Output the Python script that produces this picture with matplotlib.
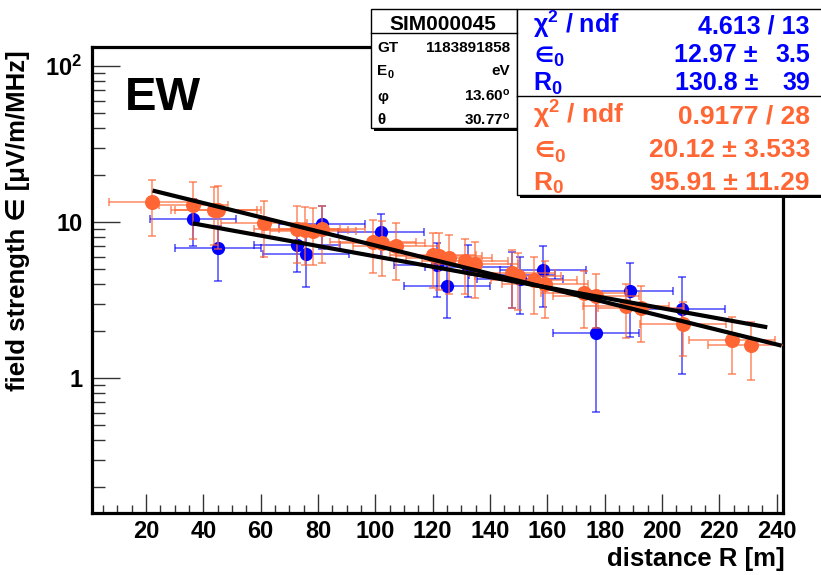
import numpy as np
import matplotlib
matplotlib.use('Agg')
import matplotlib.pyplot as plt
from matplotlib.ticker import FixedLocator, MultipleLocator, LogLocator, NullFormatter
from matplotlib.patches import Rectangle

plt.rcParams['font.family'] = ['Liberation Sans', 'DejaVu Sans']
plt.rcParams['font.weight'] = 'bold'
plt.rcParams['mathtext.fontset'] = 'custom'
plt.rcParams['mathtext.rm'] = 'Liberation Sans:bold'
plt.rcParams['mathtext.bf'] = 'Liberation Sans:bold'
plt.rcParams['mathtext.it'] = 'Liberation Sans:bold'

# ---------------- data ----------------
orange_R = [22.0, 36.5, 43.7, 45.2, 61.2, 72.8, 75.5, 78.1, 81.3, 99.3, 102.2, 107.1,
            120.2, 122.3, 125.8, 131.3, 134.8, 147.5, 149.6, 155.3, 159.2, 172.8,
            177.0, 187.4, 192.6, 207.2, 224.3, 230.9]
orange_eps = [13.4, 12.9, 11.9, 11.9, 9.86, 9.06, 8.93, 8.8, 9.06, 7.51, 7.33, 7.08,
              6.17, 6.08, 5.88, 5.65, 5.38, 4.71, 4.55, 4.27, 4.02, 3.5,
              3.39, 2.91, 2.81, 2.23, 1.76, 1.63]
orange_eps_err = [5.3, 5.1, 4.8, 5.2, 3.9, 3.6, 3.6, 3.5, 3.6, 2.8, 2.8, 2.8,
                  2.4, 2.4, 2.4, 2.2, 2.1, 1.9, 1.8, 1.7, 1.6, 1.4,
                  1.3, 1.1, 1.1, 0.85, 0.7, 0.65]
orange_R_err = [15, 12, 15, 15, 15, 15, 15, 15, 15, 15, 15, 15,
                15, 15, 15, 15, 15, 15, 15, 15, 15, 15,
                15, 15, 15, 15, 15, 15]

blue_R = [36.5, 45.2, 72.8, 75.8, 81.3, 102.0, 121.4, 124.9, 132.4, 147.5, 150.4,
          158.6, 177.0, 188.8, 206.8]
blue_eps = [10.5, 6.81, 7.19, 6.26, 9.71, 8.63, 5.33, 3.92, 5.2, 4.6, 4.3,
            4.95, 1.96, 3.65, 2.77]
blue_eps_err = [3.5, 2.6, 2.4, 2.4, 3.0, 2.7, 2.0, 1.5, 1.9, 1.8, 1.7,
                2.1, 1.35, 1.8, 1.7]
blue_R_err = [15, 15, 15, 15, 15, 15, 15, 15, 15, 15, 15, 15, 15, 15, 15]

# fit results (eps0, R0) and fit ranges
blue_fit = (12.97, 130.8)
blue_fit_range = (37.0, 236.0)
orange_fit = (20.12, 95.91)
orange_fit_range = (23.0, 241.0)

x_ticks = [20, 40, 60, 80, 100, 120, 140, 160, 180, 200, 220, 240]
y_ticks = [1, 10, 100]
y_ticklabels = ['1', '10', r'10$^{\mathbf{2}}$']

ORANGE = '#ff6633'
BLUE = '#0000ff'

# ---------------- figure ----------------
W, H = 821, 575
fig = plt.figure(figsize=(W / 100, H / 100), dpi=100)
ax = fig.add_axes([92 / W, 1 - 513 / H, (783 - 92) / W, (513 - 47) / H])
ax.set_yscale('log')
ax.set_xlim(1.16, 242.2)
ax.set_ylim(0.1372, 132.4)

ax.errorbar(blue_R, blue_eps, yerr=blue_eps_err, xerr=blue_R_err, fmt='o',
            color=BLUE, ms=8.5, mec=BLUE, ecolor=(0, 0, 1, 0.65),
            elinewidth=1.2, capsize=2.8, capthick=1.2, zorder=3)
ax.errorbar(orange_R, orange_eps, yerr=orange_eps_err, xerr=orange_R_err, fmt='o',
            color=ORANGE, ms=9.8, mec=ORANGE, ecolor=(1, 0.4, 0.2, 0.7),
            elinewidth=1.2, capsize=2.8, capthick=1.2, zorder=4)

for (e0, r0), (a, b) in [(blue_fit, blue_fit_range), (orange_fit, orange_fit_range)]:
    rr = np.linspace(a, b, 300)
    ax.plot(rr, e0 * np.exp(-rr / r0), color='black', lw=3, zorder=5)

ax.xaxis.set_major_locator(FixedLocator(x_ticks))
ax.xaxis.set_minor_locator(MultipleLocator(5))
ax.set_yticks(y_ticks)
ax.set_yticklabels(y_ticklabels)
ax.yaxis.set_minor_locator(LogLocator(base=10, subs=np.arange(2, 10)))
ax.yaxis.set_minor_formatter(NullFormatter())

ax.tick_params(axis='x', which='major', direction='in', length=14, width=1,
               color='#333333', labelsize=17, pad=5)
ax.tick_params(axis='x', which='minor', direction='in', length=6, width=1,
               color='#333333')
ax.tick_params(axis='y', which='major', direction='in', length=20, width=1,
               color='#333333', labelsize=17, pad=7)
ax.tick_params(axis='y', which='minor', direction='in', length=9.5, width=1,
               color='#333333')
ax.tick_params(top=False, right=False, which='both')
for lbl in ax.get_xticklabels() + ax.get_yticklabels():
    lbl.set_fontweight('bold')
for sp in ax.spines.values():
    sp.set_linewidth(2.3)
    sp.set_color('black')

# axis titles
fig.text(18 / W, 1 - 50 / H, 'field strength \u2208 [\u03bcV/m/MHz]', rotation=90,
         ha='center', va='top', fontsize=18.5, fontweight='bold')
fig.text(785 / W, 1 - 566 / H, 'distance R [m]', ha='right', va='baseline',
         fontsize=18.5, fontweight='bold')
fig.text(125 / W, 1 - 110 / H, 'EW', ha='left', va='baseline', fontsize=34,
         fontweight='bold')

# ---------------- overlay for stat boxes ----------------
ov = fig.add_axes([0, 0, 1, 1], zorder=10)
ov.set_xlim(0, W)
ov.set_ylim(H, 0)
ov.axis('off')
ov.patch.set_alpha(0)
renderer = fig.canvas.get_renderer()


def box(x0, y0, x1, y1):
    ov.add_patch(Rectangle((x0 + 3, y0 + 3), x1 - x0, y1 - y0, fc='black', ec='none'))
    ov.add_patch(Rectangle((x0, y0), x1 - x0, y1 - y0, fc='white', ec='black', lw=1))


def sym_sub(x, yb, sym, sub, size, color, family=None, symscale=1.0, drop=0.24):
    kw = dict(ha='left', va='baseline', color=color, fontweight='bold')
    if family:
        t = ov.text(x, yb, sym, fontsize=size * symscale, family=family, **kw)
    else:
        t = ov.text(x, yb, sym, fontsize=size * symscale, **kw)
    bb = t.get_window_extent(renderer=renderer)
    w = bb.width  # pixels (dpi 100, overlay in pixel units)
    ov.text(x + w + 0.5, yb + size * drop, sub, fontsize=size * 0.72, **kw)


box(371, 9, 517, 128)
box(517, 9, 826, 195)
ov.plot([371, 517], [33, 33], color='black', lw=1)
ov.plot([517, 826], [96, 96], color='black', lw=1)

# info box
ov.text(443, 30, 'SIM000045', ha='center', va='baseline', fontsize=15, fontweight='bold')
info_values = ['1183891858', 'eV', r'13.60$^{\mathbf{o}}$', r'30.77$^{\mathbf{o}}$']
info_base = [52.5, 75, 101, 124.5]
ov.text(377, info_base[0], 'GT', ha='left', va='baseline', fontsize=11, fontweight='bold')
sym_sub(377, info_base[1], 'E', '0', 11, 'black')
ov.text(377, info_base[2], '\u03c6', ha='left', va='baseline', fontsize=11, fontweight='bold')
ov.text(377, info_base[3], '\u03b8', ha='left', va='baseline', fontsize=11, fontweight='bold')
for val, yb in zip(info_values, info_base):
    ov.text(510, yb, val, ha='right', va='baseline', fontsize=11, fontweight='bold')


# fit stat box
def stat_rows(color, size, bases, vals, split):
    ov.text(533, bases[0], '\u03c7$^{\\mathbf{2}}$ / ndf', ha='left', va='baseline',
            fontsize=size, color=color, fontweight='bold')
    sym_sub(534, bases[1], '\u2208', '0', size, color, family=['DejaVu Sans'],
            symscale=0.85)
    sym_sub(533, bases[2], 'R', '0', size, color, drop=0.18)
    ov.text(810, bases[0], vals[0], ha='right', va='baseline', fontsize=size,
            color=color, fontweight='bold')
    for (v, e), yb in zip(vals[1:], bases[1:]):
        if split:
            ov.text(758, yb, v + ' \u00b1', ha='right', va='baseline', fontsize=size,
                    color=color, fontweight='bold')
            ov.text(810, yb, e, ha='right', va='baseline', fontsize=size,
                    color=color, fontweight='bold')
        else:
            ov.text(810, yb, v + ' \u00b1 ' + e, ha='right', va='baseline',
                    fontsize=size, color=color, fontweight='bold')


stat_rows(BLUE, 18, [33, 62, 90.5],
          ['4.613 / 13', (f'{blue_fit[0]:.2f}', '3.5'), (f'{blue_fit[1]:.1f}', '39')], True)
stat_rows(ORANGE, 19, [124, 157, 189.5],
          ['0.9177 / 28', (f'{orange_fit[0]:.2f}', '3.533'), (f'{orange_fit[1]:.2f}', '11.29')], False)

fig.savefig('out.png', dpi=100)
